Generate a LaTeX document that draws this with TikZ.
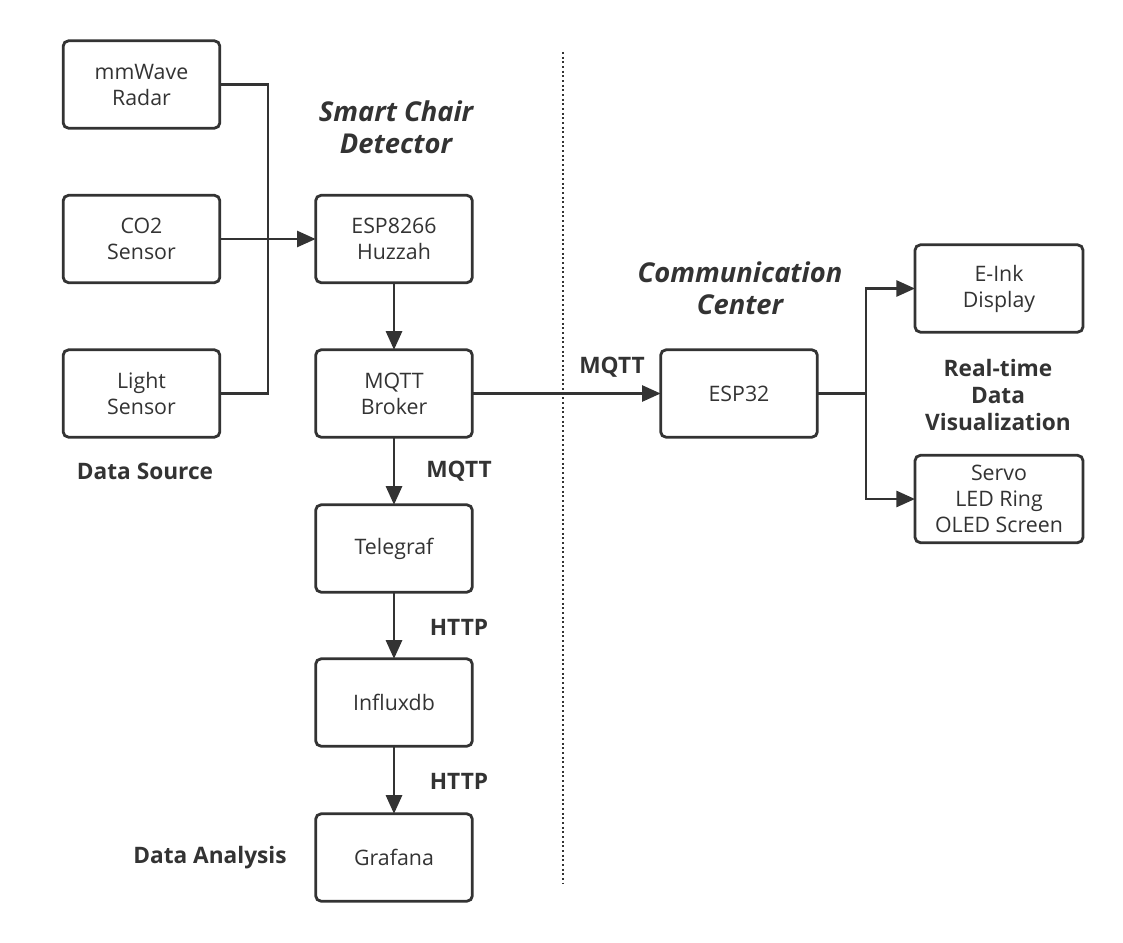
\documentclass[tikz,border=0pt]{standalone}
\usepackage{fontspec}
\setmainfont{Open Sans}
\usetikzlibrary{arrows.meta}
\definecolor{ink}{HTML}{333333}
\begin{document}
\begin{tikzpicture}[x=0.75pt,y=-0.75pt,
  every path/.style={ink},
  box/.style={draw=ink, line width=2.1pt, rounded corners=4pt, fill=white,
    minimum width=117.5pt, minimum height=65.5pt, align=center, inner sep=0pt,
    outer sep=0pt, text=ink, font=\fontsize{16}{19.5}\selectfont},
  wide/.style={minimum width=126pt},
  conn/.style={draw=ink, line width=2.1pt},
  arr/.style={conn, -{Triangle[length=14pt,width=12pt]}},
  lbl/.style={text=ink, align=center, font=\fontsize{17}{20.3}\selectfont\bfseries},
  ttl/.style={text=ink, align=center, font=\fontsize{20.5}{24}\selectfont\bfseries\itshape},
  sep/.style={draw=ink, line width=1.5pt, dotted}]
\useasboundingbox (0,0) rectangle (1123,942);
% left column
\node[box] (mm) at (141.5,84.5) {mmWave\\Radar};
\node[box] (co2) at (141.5,239) {CO2\\Sensor};
\node[box] (light) at (141.5,393.5) {Light\\Sensor};
% middle column
\node[box] (esp8266) at (394,239) {ESP8266\\Huzzah};
\node[box] (broker) at (394,393.5) {MQTT\\Broker};
\node[box] (telegraf) at (394,548.5) {Telegraf};
\node[box] (influx) at (394,702.5) {Influxdb};
\node[box] (grafana) at (394,857.5) {Grafana};
% right side
\node[box] (esp32) at (739,393.5) {ESP32};
\node[box,wide] (eink) at (999,288.5) {E-Ink\\Display};
\node[box,wide] (servo) at (999,499) {Servo\\LED Ring\\OLED Screen};
% labels
\node[ttl] (tsmart) at (396,127) {Smart Chair\\Detector};
\node[ttl] (tcomm) at (740,288) {Communication\\Center};
\node[lbl] (tsource) at (145,471) {Data Source};
\node[lbl] (tanalysis) at (210,858) {Data Analysis};
\node[lbl] (treal) at (998,395) {Real-time\\Data\\Visualization};
\node[lbl] (lmqtt1) at (612,367) {MQTT};
\node[lbl] (lmqtt2) at (459,471) {MQTT};
\node[lbl] (lhttp1) at (459,627) {HTTP};
\node[lbl] (lhttp2) at (459,781) {HTTP};
% separator
\coordinate (dtop) at (563,52);
\coordinate (dbot) at (563,884);
\draw[sep] (dtop) -- (dbot);
% bus on the left
\coordinate (bus) at (268,0);
\draw[conn] (mm.east) -- (mm.east -| bus) -- (light.east -| bus) -- (light.east);
\draw[arr] (co2.east) -- (esp8266.west);
% vertical chain
\draw[arr] (esp8266.south) -- (broker.north);
\draw[arr] (broker.south) -- (telegraf.north);
\draw[arr] (telegraf.south) -- (influx.north);
\draw[arr] (influx.south) -- (grafana.north);
% to ESP32
\draw[arr] (broker.east) -- (esp32.west);
% right bus
\coordinate (rbus) at (866,0);
\draw[conn] (esp32.east) -- (esp32.east -| rbus);
\draw[arr] (esp32.east -| rbus) |- (eink.west);
\draw[arr] (esp32.east -| rbus) |- (servo.west);
\end{tikzpicture}
\end{document}
